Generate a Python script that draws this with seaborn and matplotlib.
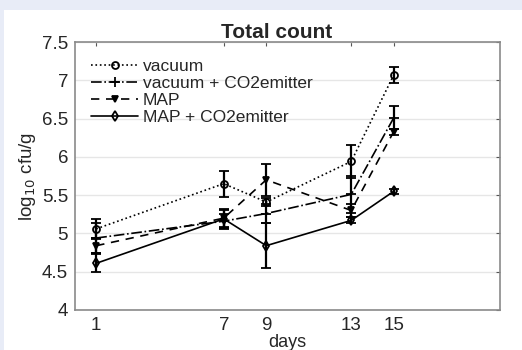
import matplotlib
matplotlib.use("Agg")
import matplotlib.pyplot as plt
import seaborn as sns
import pandas as pd
from matplotlib.patches import Rectangle

days = [1, 7, 9, 13, 15]
vacuum = [5.06, 5.65, 5.41, 5.94, 7.07]
vacuum_err = [0.13, 0.17, 0.05, 0.21, 0.11]
vac_co2 = [4.94, 5.16, 5.26, 5.51, 6.51]
vac_co2_err = [0.20, 0.10, 0.12, 0.24, 0.15]
map_ = [4.84, 5.20, 5.70, 5.30, 6.33]
map_err = [0.10, 0.12, 0.21, 0.08, 0.04]
map_co2 = [4.61, 5.19, 4.84, 5.17, 5.55]
map_co2_err = [0.12, 0.12, 0.29, 0.04, 0.03]
labels = ["vacuum", "vacuum + CO2emitter", "MAP", "MAP + CO2emitter"]
xticks = [1, 7, 9, 13, 15]

series = [vacuum, vac_co2, map_, map_co2]
errs = [vacuum_err, vac_co2_err, map_err, map_co2_err]
styles = [
    dict(ls=":", marker="o", mfc="none", ms=5),
    dict(ls="-.", marker="+", mfc="none", ms=7),
    dict(ls=(0, (5, 4)), marker="v", mfc="black", ms=5),
    dict(ls="-", marker="d", mfc="none", ms=5),
]

sns.set_style("white")
plt.rcParams["font.family"] = ["Liberation Sans", "DejaVu Sans"]

fig = plt.figure(figsize=(5.22, 3.5), dpi=100)
fig.patch.set_facecolor("#e8ecf7")
fig.patches.append(Rectangle((4 / 522, 0), 1, 1 - 10 / 350, transform=fig.transFigure,
                             facecolor="white", edgecolor="none", zorder=-10))
ax = fig.add_axes([75 / 522, 1 - 310 / 350, 425 / 522, 268 / 350])
ax.set_zorder(5)
ax.set_facecolor("white")

for lab, vals, er, st in zip(labels, series, errs, styles):
    df = pd.DataFrame({"days": days, "val": vals})
    sns.lineplot(data=df, x="days", y="val", ax=ax, color="black", lw=1.2,
                 linestyle=st["ls"], marker=st["marker"], markerfacecolor=st["mfc"],
                 markeredgecolor="black", markeredgewidth=1.3, markersize=st["ms"],
                 label=lab)
    ax.errorbar(days, vals, yerr=er, fmt="none", ecolor="black", elinewidth=1.6,
                capsize=3.5, capthick=1.3)

ax.set_xlim(0, 20)
ax.set_ylim(4, 7.5)
ax.set_xticks(xticks)
ax.set_yticks([4, 4.5, 5, 5.5, 6, 6.5, 7, 7.5])
ax.set_yticklabels(["4", "4.5", "5", "5.5", "6", "6.5", "7", "7.5"])
ax.yaxis.grid(True, color="#e6e6e6", lw=1)
ax.set_axisbelow(True)
for s in ax.spines.values():
    s.set_color("#8a8a8a")
    s.set_linewidth(1.2)
ax.tick_params(direction="in", top=True, right=True, length=3, color="#555555",
               labelsize=13.5, pad=5)
ax.set_xlabel("days", fontsize=13, labelpad=0)
ax.set_ylabel("log$_{10}$ cfu/g", fontsize=13.5, labelpad=3)
ax.set_title("Total count", fontsize=15, fontweight="bold", pad=3, x=0.475)

leg = ax.legend(loc="upper left", frameon=False, fontsize=12.5, handlelength=2.7,
                handletextpad=0.25, labelspacing=0.12, borderaxespad=0.45,
                borderpad=0.5)

fig.savefig("out.png", dpi=100, facecolor=fig.get_facecolor())
